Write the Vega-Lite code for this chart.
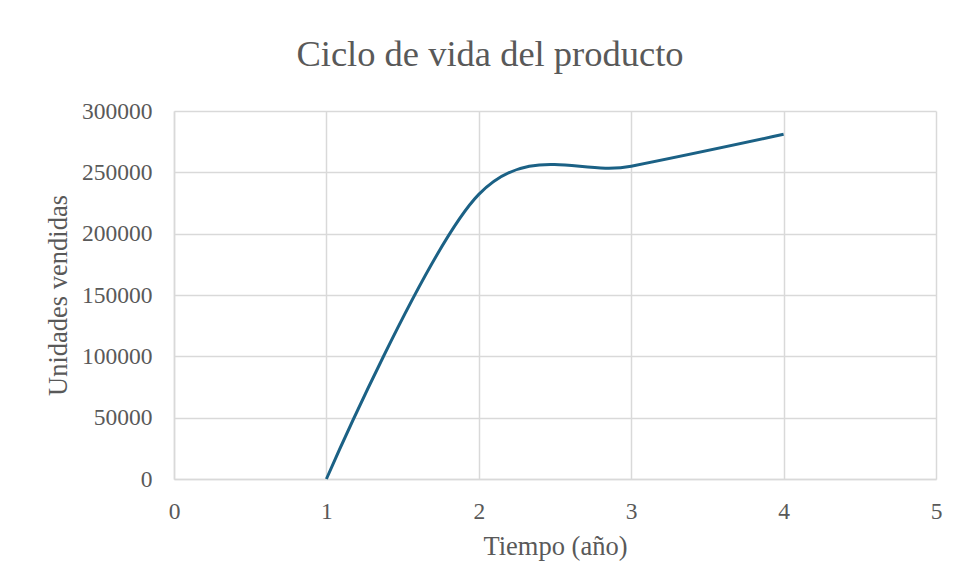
{
  "$schema": "https://vega.github.io/schema/vega-lite/v6.json",
  "autosize": {"type": "none"},
  "padding": {"left": 174, "top": 111, "right": 22, "bottom": 108},
  "width": 762,
  "height": 368,
  "background": "white",
  "title": {
    "text": "Ciclo de vida del producto",
    "font": "Liberation Serif",
    "fontSize": 36.5,
    "fontWeight": "normal",
    "color": "#595959",
    "frame": "group",
    "anchor": "middle",
    "baseline": "alphabetic",
    "offset": -3,
    "dx": -65
  },
  "data": {
    "values": [
      {"tiempo": 1, "unidades": 0},
      {"tiempo": 2, "unidades": 232000},
      {"tiempo": 3, "unidades": 255000},
      {"tiempo": 4, "unidades": 281000}
    ]
  },
  "mark": {"type": "line", "interpolate": "cardinal", "color": "#1b6185", "strokeWidth": 3},
  "encoding": {
    "x": {
      "field": "tiempo",
      "type": "quantitative",
      "scale": {"domain": [0, 5], "nice": false},
      "axis": {
        "title": "Tiempo (año)",
        "values": [0, 1, 2, 3, 4, 5],
        "format": "d",
        "labelFlush": false,
        "labelPadding": 20,
        "titlePadding": 11
      }
    },
    "y": {
      "field": "unidades",
      "type": "quantitative",
      "scale": {"domain": [0, 300000], "nice": false},
      "axis": {
        "title": "Unidades vendidas",
        "values": [0, 50000, 100000, 150000, 200000, 250000, 300000],
        "format": "d",
        "labelFlush": false,
        "labelPadding": 22,
        "titlePadding": 9
      }
    }
  },
  "config": {
    "view": {"stroke": null},
    "axis": {
      "labelFont": "Liberation Serif",
      "labelFontSize": 23.5,
      "labelColor": "#595959",
      "titleFont": "Liberation Serif",
      "titleFontSize": 26.5,
      "titleFontWeight": "normal",
      "titleColor": "#595959",
      "gridColor": "#d9d9d9",
      "gridWidth": 1.5,
      "gridOpacity": 1,
      "domainColor": "#d9d9d9",
      "domainWidth": 1.5,
      "ticks": false
    }
  }
}
